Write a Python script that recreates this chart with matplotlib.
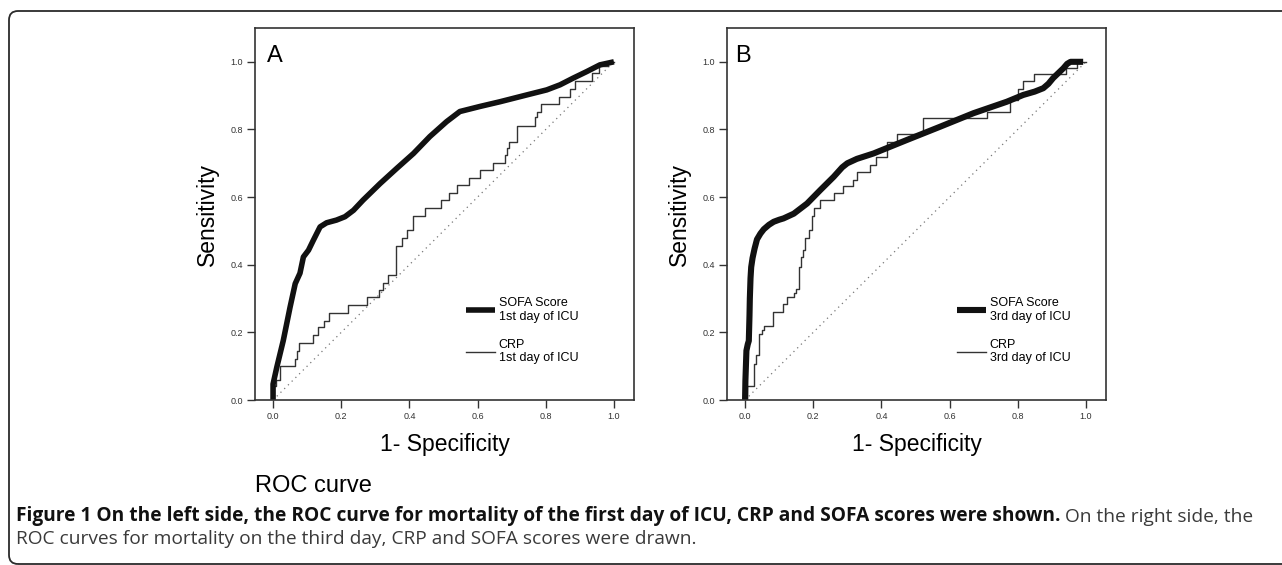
import matplotlib
matplotlib.use("Agg")
import matplotlib.pyplot as plt
from matplotlib.patches import FancyBboxPatch
from matplotlib.transforms import IdentityTransform

# ---- data ----
ref_x = [0, 1]
ref_y = [0, 1]

# panel A: 1st day of ICU
sofa1_x = [0, 0, 0.011, 0.030, 0.050, 0.065, 0.079, 0.089, 0.104, 0.118, 0.138, 0.157, 0.186, 0.211, 0.236,
           0.264, 0.314, 0.363, 0.412, 0.460, 0.509, 0.548, 0.607, 0.666, 0.744, 0.803, 0.842, 0.881, 0.920,
           0.959, 1.0]
sofa1_y = [0, 0.047, 0.097, 0.176, 0.275, 0.344, 0.375, 0.423, 0.443, 0.472, 0.512, 0.524, 0.532, 0.542, 0.561,
           0.591, 0.640, 0.685, 0.729, 0.779, 0.823, 0.853, 0.868, 0.882, 0.902, 0.917, 0.932, 0.952, 0.971,
           0.991, 1.0]

crp1_x = [0, 0, 0.010, 0.021, 0.065, 0.071, 0.077, 0.116, 0.133, 0.148, 0.165, 0.221, 0.277, 0.312, 0.324,
          0.338, 0.361, 0.377, 0.392, 0.410, 0.446, 0.492, 0.515, 0.539, 0.575, 0.607, 0.646, 0.680, 0.685,
          0.693, 0.717, 0.769, 0.775, 0.785, 0.840, 0.871, 0.886, 0.937, 0.957, 0.983, 1.0]
crp1_y = [0, 0.040, 0.060, 0.102, 0.122, 0.146, 0.169, 0.191, 0.215, 0.235, 0.258, 0.280, 0.306, 0.324, 0.346,
          0.369, 0.456, 0.480, 0.504, 0.543, 0.569, 0.591, 0.611, 0.635, 0.655, 0.680, 0.700, 0.724, 0.744,
          0.764, 0.810, 0.838, 0.853, 0.875, 0.897, 0.919, 0.944, 0.966, 0.988, 1.0, 1.0]

# panel B: 3rd day of ICU
sofa3_x = [0, 0.001, 0.004, 0.008, 0.011, 0.013, 0.014, 0.016, 0.018, 0.022, 0.028, 0.035, 0.045, 0.055,
           0.070, 0.084, 0.100, 0.113, 0.143, 0.182, 0.221, 0.260, 0.285, 0.300, 0.328, 0.377, 0.475, 0.572,
           0.670, 0.768, 0.816, 0.850, 0.875, 0.890, 0.904, 0.934, 0.945, 0.955, 0.992]
sofa3_y = [0, 0.057, 0.146, 0.165, 0.175, 0.250, 0.300, 0.360, 0.393, 0.420, 0.448, 0.475, 0.492, 0.505,
           0.518, 0.527, 0.533, 0.537, 0.551, 0.581, 0.621, 0.660, 0.688, 0.700, 0.713, 0.729, 0.769, 0.808,
           0.848, 0.882, 0.902, 0.912, 0.922, 0.935, 0.952, 0.981, 0.994, 1.0, 1.0]

crp3_x = [0, 0.006, 0.025, 0.033, 0.040, 0.050, 0.057, 0.081, 0.111, 0.123, 0.145, 0.150, 0.157, 0.165,
          0.170, 0.176, 0.189, 0.195, 0.203, 0.219, 0.260, 0.287, 0.318, 0.328, 0.367, 0.383, 0.416, 0.445,
          0.523, 0.709, 0.777, 0.802, 0.816, 0.849, 0.943, 0.975, 1.0]
crp3_y = [0, 0.041, 0.107, 0.134, 0.196, 0.206, 0.218, 0.260, 0.285, 0.306, 0.317, 0.329, 0.393, 0.423,
          0.445, 0.480, 0.502, 0.543, 0.569, 0.591, 0.613, 0.633, 0.652, 0.675, 0.695, 0.719, 0.764, 0.786,
          0.833, 0.853, 0.887, 0.919, 0.944, 0.964, 0.981, 1.0, 1.0]

ticks = [0.0, 0.2, 0.4, 0.6, 0.8, 1.0]
panel_letters = ["A", "B"]
sofa_labels = ["SOFA Score\n1st day of ICU", "SOFA Score\n3rd day of ICU"]
crp_labels = ["CRP\n1st day of ICU", "CRP\n3rd day of ICU"]

caption_bold = ("Figure 1 On the left side, the ROC curve for mortality of the first day of ICU, "
                "CRP and SOFA scores were shown.")
caption_rest1 = " On the right side, the"
caption_rest2 = "ROC curves for mortality on the third day, CRP and SOFA scores were drawn."

plt.rcParams['font.family'] = ['Liberation Sans', 'DejaVu Sans']

W, H = 1282, 565
fig = plt.figure(figsize=(W / 100, H / 100), dpi=100)
fig.patch.set_facecolor('white')

# outer rounded frame (left/top/bottom visible, right runs off the page)
frame = FancyBboxPatch((9, 1), 1400, 553, boxstyle='round,pad=0,rounding_size=9',
                       transform=IdentityTransform(), fill=False, ec='#2b2b2b', lw=1.3)
fig.add_artist(frame)

panels = [
    (255, sofa1_x, sofa1_y, crp1_x, crp1_y, 4.0, 0.541),
    (727, sofa3_x, sofa3_y, crp3_x, crp3_y, 4.4, 0.591),
]

axes = []
for i, (left_px, sx, sy, cx, cy, sofa_lw, leg_x) in enumerate(panels):
    ax = fig.add_axes([left_px / W, 1 - 400 / H, 379 / W, 372 / H])
    axes.append(ax)

    ax.plot(ref_x, ref_y, color='#777777', lw=0.9, linestyle=(0, (1, 3.2)))
    crp_line, = ax.plot(cx, cy, drawstyle='steps-post', color='#333333', lw=1.0)
    sofa_line, = ax.plot(sx, sy, color='#111111', lw=sofa_lw, solid_joinstyle='round',
                         solid_capstyle='butt')

    ax.set_xlim(-0.053, 1.059)
    ax.set_ylim(0, 1.1)
    ax.set_xticks(ticks)
    ax.set_yticks(ticks)
    ax.set_xticklabels([f'{t:.1f}' for t in ticks])
    ax.set_yticklabels([f'{t:.1f}' for t in ticks])
    ax.tick_params(direction='out', length=5.5, width=1.0, color='#333333',
                   labelsize=6.5, labelcolor='#333333', pad=3)
    for sp in ax.spines.values():
        sp.set_color('#333333')
        sp.set_linewidth(1.2)

    ax.set_xlabel('1- Specificity', fontsize=16.5)
    ax.set_ylabel('Sensitivity', fontsize=16.5)
    ax.xaxis.set_label_coords(0.5, -0.088)
    ax.yaxis.set_label_coords(-0.095, 0.5)

    ax.text(0.031 if i == 0 else 0.021, 0.909, panel_letters[i], transform=ax.transAxes,
            fontsize=17, va='baseline', ha='left')

    ax.legend([sofa_line, crp_line], [sofa_labels[i], crp_labels[i]], loc='upper left',
              bbox_to_anchor=(leg_x, 0.293), frameon=False, borderpad=0, fontsize=9,
              handlelength=2.3, handletextpad=0.3, labelspacing=1.25)

# "ROC curve" note under the left panel
fig.text(255 / W, 1 - 492 / H, 'ROC curve', fontsize=17, va='baseline', ha='left')

# caption
cap_font = ['Open Sans', 'DejaVu Sans']
cap_size = 13.8
bold = fig.text(16 / W, 1 - 521 / H, caption_bold, fontsize=cap_size, fontweight='bold',
                family=cap_font, va='baseline', ha='left', color='#111111')
axes[0].annotate(caption_rest1, xy=(1, 0), xycoords=bold, va='bottom', ha='left',
                 fontsize=cap_size, family=cap_font, color='#3a3a3a', annotation_clip=False)
fig.text(16 / W, 1 - 544 / H, caption_rest2, fontsize=cap_size, family=cap_font,
         va='baseline', ha='left', color='#3a3a3a')

fig.savefig('out.png', dpi=100)
